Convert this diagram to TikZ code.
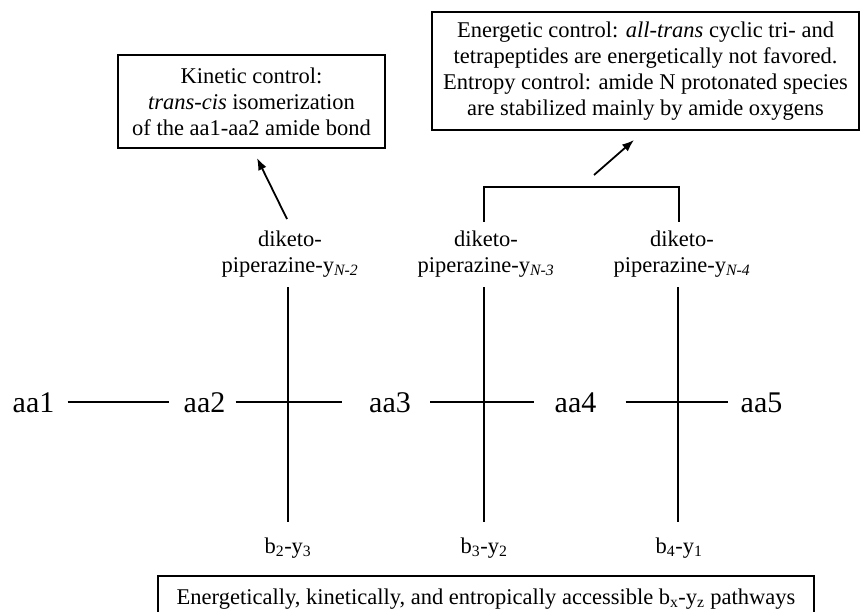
\documentclass[tikz,border=0pt]{standalone}
\usepackage{fontspec}
\setmainfont{Liberation Serif}
\usetikzlibrary{arrows.meta}
\begin{document}
\begin{tikzpicture}[x=1pt,y=-1pt,
  aa/.style={font=\fontsize{30}{34}\selectfont, inner sep=0pt},
  lbl/.style={font=\fontsize{22.5}{26}\selectfont, align=center, inner sep=0pt},
  boxnode/.style={draw, line width=1.8pt, align=center, font=\fontsize{22.5}{26}\selectfont, inner sep=0pt},
  bond/.style={line width=2.2pt},
  frag/.style={line width=1.6pt},
  ptr/.style={line width=1.8pt, -{Latex[length=12pt,width=9pt]}}
]
\useasboundingbox (0,0) rectangle (860,611);
\clip (0,0) rectangle (860,611);

% residues
\node[aa] (aa1) at (33.5,403) {aa1};
\node[aa] (aa2) at (204.5,403) {aa2};
\node[aa] (aa3) at (390,403) {aa3};
\node[aa] (aa4) at (575.5,403) {aa4};
\node[aa] (aa5) at (761.5,403) {aa5};

% backbone bonds
\draw[bond] ([xshift=13pt,yshift=1pt]aa1.east) -- ([xshift=-14pt,yshift=1pt]aa2.west);
\draw[bond] ([xshift=10pt,yshift=1pt]aa2.east) -- ([xshift=-27pt,yshift=1pt]aa3.west);
\draw[bond] ([xshift=19pt,yshift=1pt]aa3.east) -- ([xshift=-20pt,yshift=1pt]aa4.west);
\draw[bond] ([xshift=29pt,yshift=1pt]aa4.east) -- ([xshift=-12pt,yshift=1pt]aa5.west);

% diketopiperazine labels
\node[lbl] (dk1) at (290,254) {diketo-\\piperazine-y\textsubscript{\textit{N-2}}};
\node[lbl] (dk2) at (486,254) {diketo-\\piperazine-y\textsubscript{\textit{N-3}}};
\node[lbl] (dk3) at (682,254) {diketo-\\piperazine-y\textsubscript{\textit{N-4}}};

% b/y labels
\node[lbl] (b1) at (288,548) {b\textsubscript{2}-y\textsubscript{3}};
\node[lbl] (b2) at (484,548) {b\textsubscript{3}-y\textsubscript{2}};
\node[lbl] (b3) at (679,548) {b\textsubscript{4}-y\textsubscript{1}};

% fragmentation lines
\coordinate (v1t) at (288,287); \coordinate (v1b) at (288,522);
\coordinate (v2t) at (484,287); \coordinate (v2b) at (484,522);
\coordinate (v3t) at (678,287); \coordinate (v3b) at (678,522);
\draw[frag] (v1t) -- (v1b);
\draw[frag] (v2t) -- (v2b);
\draw[frag] (v3t) -- (v3b);

% boxes
\node[boxnode, minimum width=267pt, minimum height=93pt] (kin) at (251.5,101.5)
  {Kinetic control:\\ \textit{trans-cis} isomerization\\ of the aa1-aa2 amide bond};
\node[boxnode, minimum width=427pt, minimum height=118pt] (ene) at (645.5,71)
  {Energetic control: \textit{all-trans} cyclic tri- and\\ tetrapeptides are energetically not favored.\\ Entropy control: amide N protonated species\\ are stabilized mainly by amide oxygens};
\node[boxnode, minimum width=656pt, minimum height=46pt] (acc) at (486,599)
  {Energetically, kinetically, and entropically accessible b\textsubscript{x}-y\textsubscript{z} pathways};

% bracket
\coordinate (br1) at (484,222); \coordinate (br2) at (484,187);
\coordinate (br3) at (679,187); \coordinate (br4) at (679,222);
\draw[frag] (br1) -- (br2) -- (br3) -- (br4);

% arrows
\coordinate (a1s) at (287,219); \coordinate (a1e) at (257,158);
\draw[ptr] (a1s) -- (a1e);
\coordinate (a2s) at (594,175); \coordinate (a2e) at (634,140);
\draw[ptr] (a2s) -- (a2e);
\end{tikzpicture}
\end{document}
